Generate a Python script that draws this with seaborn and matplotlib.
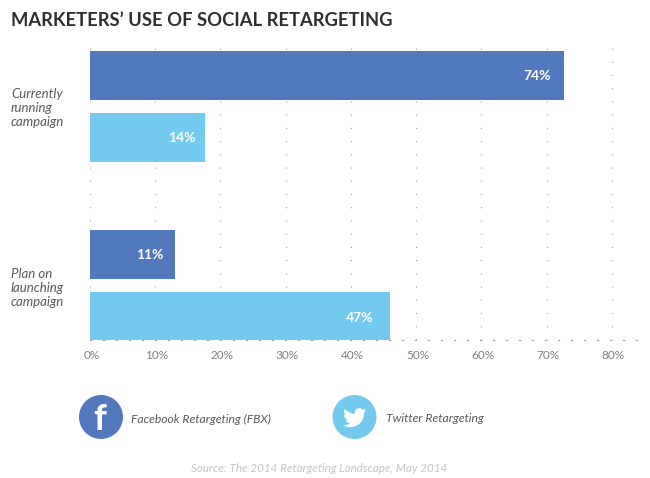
import pandas as pd
import matplotlib
matplotlib.use("Agg")
import matplotlib.pyplot as plt
import matplotlib.transforms as mtrans
import seaborn as sns
from matplotlib.patches import Circle, Polygon

# values (drawn bar length differs from the printed label)
statuses = ["Currently\nrunning\ncampaign", "Plan on\nlaunching\ncampaign"]
platforms = ["Facebook Retargeting (FBX)", "Twitter Retargeting"]
facebook_share = [72.7, 13.0]
twitter_share = [17.7, 46.0]
facebook_labels = ["74%", "11%"]
twitter_labels = ["14%", "47%"]
x_ticks = [0, 10, 20, 30, 40, 50, 60, 70, 80]

BLUE = "#5279bd"
LIGHT = "#73c9ee"
W, H = 650, 478

df = pd.DataFrame({
    "status": statuses * 2,
    "platform": [platforms[0]] * 2 + [platforms[1]] * 2,
    "share": facebook_share + twitter_share,
})

sns.set_style("white")
plt.rcParams["font.family"] = ["Lato", "DejaVu Sans"]

fig = plt.figure(figsize=(W / 100, H / 100), dpi=100)
ax = fig.add_axes([90 / W, 1 - 340 / H, 548 / W, 293 / H])

sns.barplot(data=df, x="share", y="status", hue="platform", palette=[BLUE, LIGHT],
            saturation=1, width=0.693, gap=0.21, legend=False, linewidth=0, ax=ax)

ax.set_xlim(0, 84)
ax.set_ylim(1.304, -0.332)
ax.set_xlabel("")
ax.set_ylabel("")
ax.set_xticks(x_ticks)
ax.set_xticklabels([f"{t}%" for t in x_ticks], color="#808080", fontsize=8.5)
ax.tick_params(axis="x", length=0, pad=7)
nudge = mtrans.ScaledTranslation(1.5 / 100, 0, fig.dpi_scale_trans)
for lab in ax.get_xticklabels():
    lab.set_transform(lab.get_transform() + nudge)

# dotted grid
ax.set_axisbelow(True)
ax.xaxis.grid(True, color="#a0a0a0", linewidth=0.8, linestyle=(0, (1, 10.9)))
ax.yaxis.grid(False)
for side in ["top", "right", "left"]:
    ax.spines[side].set_visible(False)
ax.spines["bottom"].set_color("#a0a0a0")
ax.spines["bottom"].set_linewidth(0.8)
ax.spines["bottom"].set_linestyle((0, (1, 10.7)))
ax.spines["bottom"].set_zorder(0.5)

# category labels sit left aligned at the page margin
ax.tick_params(axis="y", length=0, pad=79 * 0.72)
for lab in ax.get_yticklabels():
    lab.set_horizontalalignment("left")
    lab.set_multialignment("left")
    lab.set_fontstyle("italic")
    lab.set_fontsize(9.5)
    lab.set_color("#5a5a5a")
    lab.set_linespacing(1.2)

# value labels inside the bar ends
label_sets = [facebook_labels, twitter_labels]
insets = [[10, 8], [7, 12]]
for cont, labs, ins in zip(ax.containers, label_sets, insets):
    for bar, lab, off in zip(cont, labs, ins):
        ax.annotate(lab, (bar.get_width(), bar.get_y() + bar.get_height() / 2),
                    xytext=(-off, -0.7), textcoords="offset points", ha="right", va="center",
                    color="white", fontweight="bold", fontsize=10)

# page overlay in pixels: title, legend badges, source
page = fig.add_axes([0, 0, 1, 1], zorder=5)
page.set_xlim(0, W)
page.set_ylim(H, 0)
page.axis("off")
page.patch.set_alpha(0)

page.text(11, 20.5, "MARKETERS\u2019 USE OF SOCIAL RETARGETING", fontsize=13.2, fontweight="bold",
          color="#2e2e2e", ha="left", va="center")

page.add_patch(Circle((101, 417), 22, color=BLUE, lw=0))
page.text(100, 420, "f", color="white", fontsize=26, fontweight="bold", ha="center", va="center")
page.text(131, 419, platforms[0], fontsize=8.7, fontstyle="italic", color="#5a5a5a", va="center")

page.add_patch(Circle((354.5, 417), 22, color=LIGHT, lw=0))
bird = [(24, 4.6), (21.1, 5.35), (23.3, 2.6), (20.2, 3.8), (18.5, 2.5), (16.5, 2), (14, 2.8),
        (12.4, 4.6), (11.9, 6.5), (12.1, 8.1), (8.5, 7.4), (4.8, 5.6), (1.6, 3.2), (1, 5.6),
        (1.6, 7.9), (3.2, 9.7), (0.9, 9.1), (1.3, 11.2), (2.7, 12.8), (4.9, 14), (2.7, 14.1),
        (3.7, 16), (5.5, 17.1), (7.4, 17.5), (4.5, 19.1), (1.3, 19.6), (0, 19.5), (3.5, 21.1),
        (7.5, 21.7), (12, 21), (16, 18.9), (19, 15.6), (20.9, 11.5), (21.5, 7.5), (21.5, 6.9)]
page.add_patch(Polygon([(343 + x * 0.98, 406 + y * 0.98) for x, y in bird], color="white", lw=0))
page.text(386, 419, platforms[1], fontsize=8.7, fontstyle="italic", color="#5a5a5a", va="center")

page.text(319, 468, "Source: The 2014 Retargeting Landscape, May 2014", fontsize=8.4,
          fontstyle="italic", color="#c6c6c6", ha="center", va="center")

fig.savefig("out.png", dpi=100)
